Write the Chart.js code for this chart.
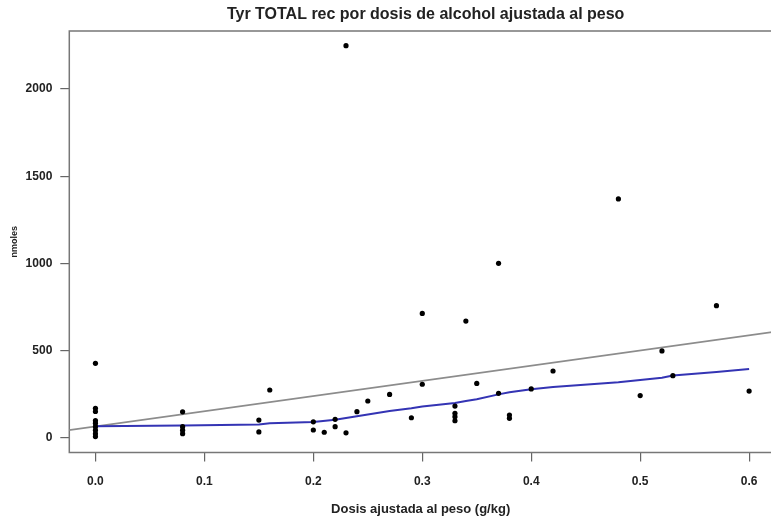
<!DOCTYPE html>
<html><head><meta charset="utf-8">
<script src="https://cdn.jsdelivr.net/npm/chart.js@4/dist/chart.umd.min.js"></script>
<style>html,body{margin:0;padding:0;background:#fff;overflow:hidden}#wrap{width:771px;height:521px;position:relative;overflow:hidden}</style>
</head><body><div id="wrap"><canvas id="c" width="776" height="521"></canvas></div>
<script>
const chartTitle = "Tyr TOTAL rec por dosis de alcohol ajustada al peso";
const xTitle = "Dosis ajustada al peso (g/kg)";
const yTitle = "nmoles";
const xTicks = [0, 0.1, 0.2, 0.3, 0.4, 0.5, 0.6];
const yTicks = [0, 500, 1000, 1500, 2000];
const xRange = [-0.024, 0.621];
const yRange = [-83, 2332];

// observed points
const doseX = [0,0,0,0,0,0,0,0,0, 0.08,0.08,0.08,0.08, 0.15,0.15, 0.16, 0.20,0.20, 0.21, 0.22,0.22, 0.23,0.23, 0.24, 0.25, 0.27, 0.29, 0.30,0.30, 0.33,0.33,0.33,0.33, 0.34, 0.35, 0.37,0.37, 0.38,0.38, 0.40, 0.42, 0.48, 0.50, 0.52, 0.53, 0.57, 0.60];
const tyrY  = [428,170,152,100,85,65,45,25,8, 150,65,45,25, 103,35, 275, 93,46, 33, 107,65, 2248,30, 151, 212, 250, 116, 714,308, 183,142,122,99, 670, 313, 1001,256, 132,113, 281, 384, 1370, 243, 499, 357, 758, 269];

// smoothed (lowess) curve
const lowessX = [0, 0.08, 0.15, 0.16, 0.20, 0.22, 0.24, 0.25, 0.27, 0.29, 0.30, 0.33, 0.34, 0.35, 0.37, 0.38, 0.40, 0.42, 0.48, 0.50, 0.52, 0.53, 0.57, 0.60];
const lowessY = [68, 72, 78, 85, 92, 105, 125, 135, 155, 170, 180, 200, 212, 222, 250, 262, 280, 292, 320, 333, 345, 358, 378, 395];

// linear fit line
const fitX = [-0.03, 0.65];
const fitY = [40, 632];

const FONT = "'Liberation Sans', Arial, sans-serif";
Chart.defaults.font.family = FONT;

const framePlugin = {
  id: 'frame',
  beforeDraw(chart) {
    const ctx = chart.ctx;
    ctx.save();
    ctx.fillStyle = '#fff';
    ctx.fillRect(0, 0, chart.width, chart.height);
    ctx.restore();
  },
  beforeDatasetsDraw(chart) {
    const {ctx, chartArea: a} = chart;
    ctx.save();
    ctx.strokeStyle = '#777';
    ctx.lineWidth = 1.5;
    ctx.beginPath();
    ctx.moveTo(a.right + 5, a.top);
    ctx.lineTo(a.left, a.top);
    ctx.lineTo(a.left, a.bottom);
    ctx.lineTo(a.right + 5, a.bottom);
    ctx.stroke();
    ctx.restore();
  },
  afterDraw(chart) {
    const {ctx, chartArea: a} = chart;
    ctx.save();
    ctx.fillStyle = '#222';
    ctx.font = "bold 16px " + FONT;
    ctx.textAlign = 'center';
    ctx.textBaseline = 'middle';
    ctx.fillText(chartTitle, (a.left + a.right) / 2 + 5, 15);
    ctx.restore();
  }
};

new Chart(document.getElementById('c'), {
  type: 'scatter',
  data: {
    datasets: [
      {
        label: 'obs',
        data: doseX.map((x, i) => ({x: x, y: tyrY[i]})),
        backgroundColor: '#000', borderColor: '#000',
        pointRadius: 2.6, pointBorderWidth: 0, order: 0
      },
      {
        label: 'lowess',
        data: lowessX.map((x, i) => ({x: x, y: lowessY[i]})),
        showLine: true, borderColor: '#3434b4', borderWidth: 2,
        pointRadius: 0, tension: 0, order: 1
      },
      {
        label: 'fit',
        data: fitX.map((x, i) => ({x: x, y: fitY[i]})),
        showLine: true, borderColor: '#8c8c8c', borderWidth: 1.8,
        pointRadius: 0, order: 2
      }
    ]
  },
  options: {
    responsive: false, animation: false, devicePixelRatio: 1,
    layout: {padding: {top: 31, left: 0, right: 0, bottom: 0}},
    plugins: {legend: {display: false}, tooltip: {enabled: false}, title: {display: false}},
    scales: {
      x: {
        type: 'linear', min: xRange[0], max: xRange[1],
        afterBuildTicks: s => { s.ticks = xTicks.map(v => ({value: v})); },
        afterFit: s => { s.height = 68.5; },
        grid: {display: true, drawOnChartArea: false, drawTicks: true, tickLength: 9, color: '#666', lineWidth: 1.2},
        border: {display: false},
        ticks: {color: '#222', font: {size: 12, weight: 'bold'}, padding: 13, maxRotation: 0,
                callback: v => Number(v).toFixed(1)},
        title: {display: true, text: xTitle, color: '#222', font: {size: 13, weight: 'bold'}, padding: {top: 0, bottom: 4}}
      },
      y: {
        type: 'linear', min: yRange[0], max: yRange[1],
        afterBuildTicks: s => { s.ticks = yTicks.map(v => ({value: v})); },
        afterFit: s => { s.width = 69.3; },
        grid: {display: true, drawOnChartArea: false, drawTicks: true, tickLength: 9, color: '#666', lineWidth: 1.2},
        border: {display: false},
        ticks: {color: '#222', font: {size: 12, weight: 'bold'}, padding: 8,
                callback: v => String(v)},
        title: {display: true, text: yTitle, color: '#222', font: {size: 9, weight: 'bold'}, padding: {top: 9, bottom: 0}}
      }
    }
  },
  plugins: [framePlugin]
});
</script>
</body></html>
